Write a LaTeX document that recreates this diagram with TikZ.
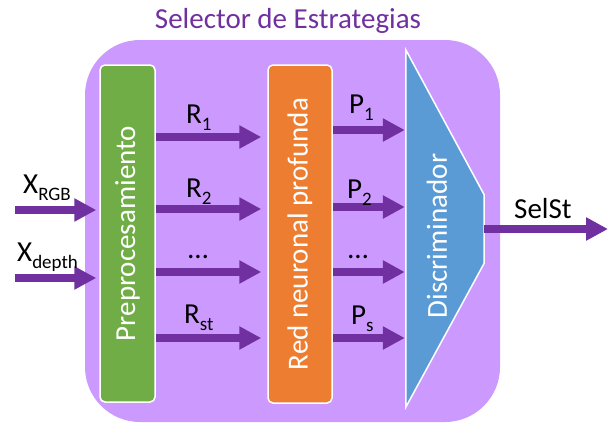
\documentclass[tikz,border=0pt]{standalone}
\usepackage{fontspec}
\setmainfont{Carlito}
\usetikzlibrary{arrows.meta,calc}
\definecolor{bgpurple}{HTML}{CC99FF}
\definecolor{arrowpurple}{HTML}{7030A0}
\definecolor{boxgreen}{HTML}{70AD47}
\definecolor{boxorange}{HTML}{ED7D31}
\definecolor{boxblue}{HTML}{5B9BD5}
\newcommand{\lowsub}[1]{\raisebox{-7pt}{\fontsize{19}{20}\selectfont #1}}
\tikzset{
  blockbox/.style={draw=white, line width=1.5pt, rounded corners=5pt, inner sep=0pt},
  arr/.style={draw=arrowpurple, line width=8pt, -{Triangle[length=22pt,width=22pt]}},
  lbl/.style={font=\fontsize{29}{34}\selectfont, inner sep=0pt, anchor=base west},
  wlbl/.style={font=\fontsize{29}{34}\selectfont, text=white, inner sep=0pt, rotate=90},
}
\begin{document}
\begin{tikzpicture}[x=1pt,y=-1pt]
\useasboundingbox (0,0) rectangle (608,423);
% background block
\node[fill=bgpurple, rounded corners=55pt, minimum width=415pt, minimum height=382pt, inner sep=0pt] (sel) at (292.5,231) {};
\node[font=\fontsize{29}{34}\selectfont, text=arrowpurple, inner sep=0pt, anchor=base] (title) at (288,28) {Selector de Estrategias};
% blocks
\node[blockbox, fill=boxgreen, minimum width=55pt, minimum height=337pt] (pre) at (127.5,233.5) {};
\node[wlbl] (pretext) at (pre.center) {Preprocesamiento};
\node[blockbox, fill=boxorange, minimum width=64pt, minimum height=338pt] (red) at (300,234) {};
\node[wlbl] (redtext) at (red.center) {Red neuronal profunda};
\node[minimum width=78pt, minimum height=357pt, inner sep=0pt] (disc) at (445,228.5) {};
\draw[fill=boxblue, draw=white, line width=1.5pt]
  (disc.north west) -- ($(disc.north east)+(0,145)$) -- ($(disc.south east)+(0,-144)$) -- (disc.south west) -- cycle;
\node[wlbl] (disctext) at (437,236) {Discriminador};
% inputs
\coordinate (xin1) at (15,210);
\coordinate (xin2) at (15,278);
\draw[arr, shorten >=3pt] (xin1) -- (pre.west |- xin1);
\draw[arr, shorten >=3pt] (xin2) -- (pre.west |- xin2);
\node[lbl] (lx1) at (23,193) {X\lowsub{RGB}};
\node[lbl] (lx2) at (17,261) {X\lowsub{depth}};
% R arrows
\foreach \yy/\nm in {137/r1,209/r2,272/r3,338/r4}{
  \draw[arr, shorten >=6pt] (pre.east |- 0,\yy) -- (red.west |- 0,\yy);
}
\node[lbl] (lr1) at (186,123) {R\lowsub{1}};
\node[lbl] (lr2) at (186,197) {R\lowsub{2}};
\node[lbl] (lr3) at (188,258) {…};
\node[lbl] (lr4) at (184,323) {R\lowsub{st}};
% P arrows
\foreach \yy in {130,207,272,338}{
  \draw[arr, shorten >=1pt] (red.east |- 0,\yy) -- (disc.west |- 0,\yy);
}
\node[lbl] (lp1) at (349,113) {P\lowsub{1}};
\node[lbl] (lp2) at (347,198) {P\lowsub{2}};
\node[lbl] (lp3) at (348,258) {…};
\node[lbl] (lp4) at (351,324) {P\lowsub{s}};
% output
\coordinate (out) at (608,229);
\draw[arr] (disc.east |- out) -- (out);
\node[lbl] (lsel) at (514,218) {SelSt};
\end{tikzpicture}
\end{document}
